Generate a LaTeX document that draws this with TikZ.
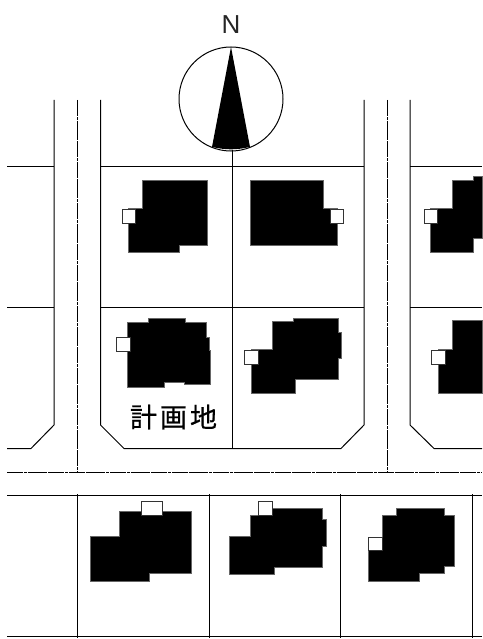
\documentclass[tikz,border=0pt]{standalone}
\usepackage{fontspec}
\setmainfont{Liberation Sans}
\newfontfamily\cjkfont[FakeBold=0.6]{Noto Sans CJK JP}

\begin{document}
\begin{tikzpicture}[x=1pt, y=-1pt, line width=1pt]
    \tikzstyle{house} = [fill=black, draw=black!60, line width=0.4pt]
    \tikzstyle{entry} = [fill=white, draw=black!80, line width=0.9pt]
    \tikzstyle{center line} = [line width=0.9pt, dash pattern=on 16pt off 0.8pt on 3pt off 0.8pt]

    \useasboundingbox (0,0) rectangle (482,639);

    % North mark
    \node [font=\fontsize{26}{26}\selectfont, text=black!85] (north) at (231,25) {N};
    \draw (231,99) circle (52);
    \fill (231,47) -- (212,147) to [bend right=12] (250,147) -- cycle;

    % Road edges and lot lines
    \draw (54,100) -- (54,425) -- (31,448.5) -- (7,448.5);
    \draw (100.5,100) -- (100.5,425) -- (124,448.5) -- (341,448.5) -- (364,425) -- (364,100);
    \draw (482,448.5) -- (434,448.5) -- (410,425) -- (410,100);
    \draw (232,150) -- (232,448.5);
    \foreach \y in {166.5,307.5} {
        \draw (7,\y) -- (54,\y);
        \draw (100.5,\y) -- (364,\y);
        \draw (410,\y) -- (482,\y);
    }

    % Road centre lines
    \draw [center line] (77.5,100) -- (77.5,472);
    \draw [center line] (387,100) -- (387,472);
    \draw [center line] (7,472) -- (482,472);

    % Lower row of lots
    \draw (7,495) -- (482,495);
    \draw (7,636) -- (482,636);
    \foreach \x in {77.5,209,340.5,472.5} {
        \draw (\x,494) -- (\x,638);
    }

    % Houses of the upper rows
    \fill [house] (142,180) -- (207,180) -- (207,245) -- (179,245) -- (179,252) -- (128,252) -- (128,208) -- (142,208) -- cycle;
    \draw [entry] (122,209) rectangle (135,223);
    \fill [house] (250,180) -- (323,180) -- (323,208) -- (337,208) -- (337,245) -- (250,245) -- cycle;
    \draw [entry] (330,209) rectangle (343,223);
    \fill [house] (452,180) -- (473,180) -- (473,176) -- (482,176) -- (482,238) -- (473,238) -- (473,252) -- (430.5,252) -- (430.5,208) -- (452,208) -- cycle;
    \draw [entry] (424,209) rectangle (437.5,223);

    \fill [house] (127,322) -- (148,322) -- (148,318.5) -- (185,318.5) -- (185,322) -- (206,322) -- (206,337) -- (209,337) -- (209,350) -- (210,350) -- (210,384) -- (184,384) -- (184,382) -- (164,382) -- (164,387.5) -- (127,387.5) -- cycle;
    \draw [entry] (116.5,337) rectangle (130,351);
    \fill [house] (272,321) -- (293,321) -- (293,318) -- (338,318) -- (338,332) -- (341,332) -- (341,358) -- (338,358) -- (338,379.5) -- (295,379.5) -- (295,393) -- (251,393) -- (251,349.5) -- (272,349.5) -- cycle;
    \draw [entry] (244.5,350) rectangle (258,364);
    \fill [house] (452,320.5) -- (482,320.5) -- (482,393) -- (438,393) -- (438,349) -- (452,349) -- cycle;
    \draw [entry] (431.5,350) rectangle (445,364);

    % Houses of the lower row
    \fill [house] (119,511.5) -- (191,511.5) -- (191,573.5) -- (149,573.5) -- (149,581) -- (90.5,581) -- (90.5,536) -- (119,536) -- cycle;
    \draw [entry] (141,501.5) rectangle (162,515);
    \fill [house] (250,515) -- (272,515) -- (272,508) -- (322,508) -- (322,519) -- (326,519) -- (326,546) -- (322,546) -- (322,567) -- (274,567) -- (274,574) -- (229,574) -- (229,536) -- (250,536) -- cycle;
    \draw [entry] (258,501.5) rectangle (272.5,515);
    \fill [house] (396,515) -- (396,508) -- (444,508) -- (444,515) -- (454,515) -- (454,566) -- (444,566) -- (444,573) -- (419,573) -- (419,581) -- (368,581) -- (368,550) -- (382,550) -- (382,515) -- cycle;
    \draw [entry] (368.5,537) rectangle (382,550);

    \node [font=\cjkfont\fontsize{27}{27}\selectfont] (site) at (173.5,417) {計\hspace{3pt}画\hspace{3pt}地};
\end{tikzpicture}
\end{document}
